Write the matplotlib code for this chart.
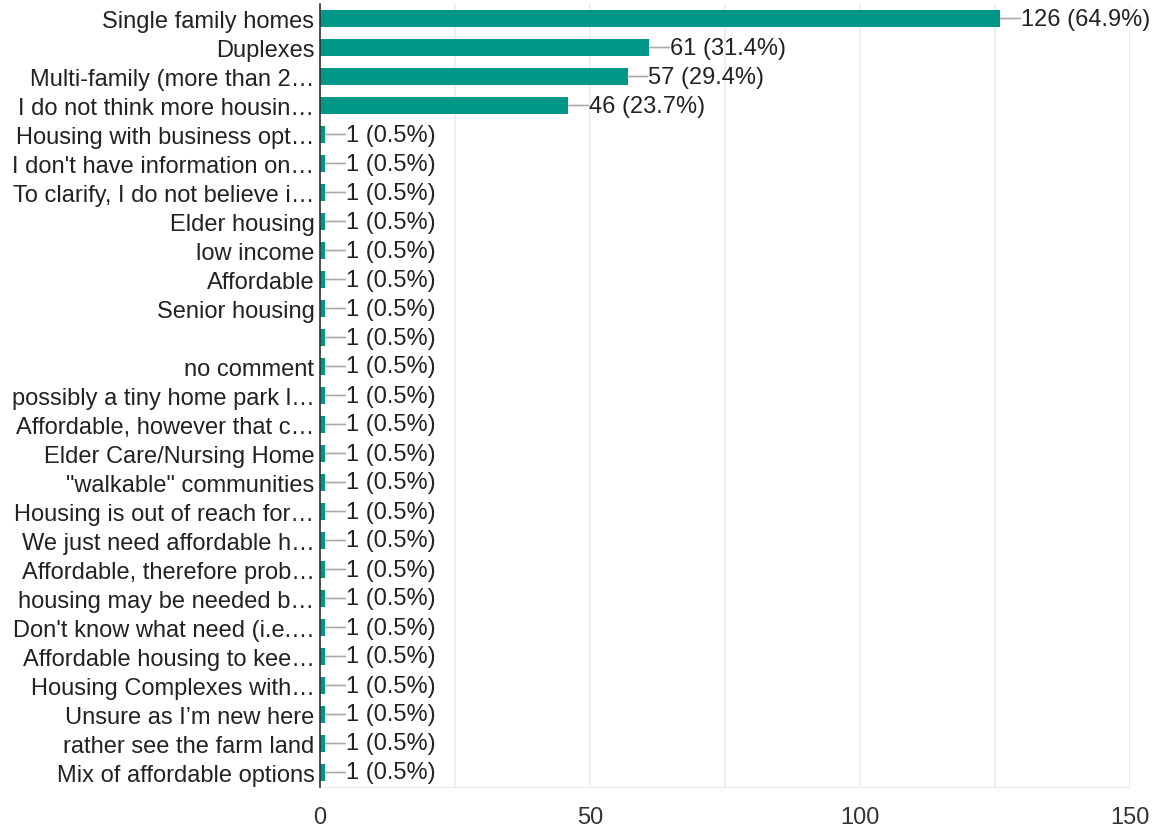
import matplotlib
matplotlib.use("Agg")
import matplotlib.pyplot as plt

categories = [
    "Single family homes", "Duplexes", "Multi-family (more than 2\u2026",
    "I do not think more housin\u2026", "Housing with business opt\u2026",
    "I don't have information on\u2026", "To clarify, I do not believe i\u2026",
    "Elder housing", "low income", "Affordable", "Senior housing", "",
    "no comment", "possibly a tiny home park l\u2026", "Affordable, however that c\u2026",
    "Elder Care/Nursing Home", "\"walkable\" communities", "Housing is out of reach for\u2026",
    "We just need affordable h\u2026", "Affordable, therefore prob\u2026",
    "housing may be needed b\u2026", "Don't know what need (i.e.\u2026",
    "Affordable housing to kee\u2026", "Housing Complexes with\u2026",
    "Unsure as I\u2019m new here", "rather see the farm land", "Mix of affordable options",
]
values = [126, 61, 57, 46] + [1] * 23
percents = [64.9, 31.4, 29.4, 23.7] + [0.5] * 23
xticks = [0, 50, 100, 150]

plt.rcParams['font.family'] = ['Liberation Sans', 'DejaVu Sans']
fig = plt.figure(figsize=(11.55, 8.29), dpi=100)
ax = fig.add_axes([320/1155, 1-788/829, 810/1155, 783/829])

ypos = list(range(len(categories)))
ax.barh(ypos, values, height=0.6, color="#009688", zorder=3)
ax.set_ylim(len(categories) - 0.5, -0.5)
ax.set_xlim(0, 150)

fs = 17
for y, v, p in zip(ypos, values, percents):
    ax.annotate("", xy=(v, y), xytext=(v + 3.7, y),
                arrowprops=dict(arrowstyle="-", color="#aaaaaa", lw=1.2,
                                shrinkA=0, shrinkB=0), zorder=4)
    ax.text(v + 3.8, y, f"{v} ({p}%)", va="center", ha="left",
            fontsize=fs, color="#222222", zorder=5)

ax.set_yticks(ypos)
ax.set_yticklabels(categories, fontsize=fs, color="#222222")
ax.tick_params(axis='y', length=0, pad=4)
ax.set_xticks([0, 25, 50, 75, 100, 125, 150])
ax.set_xticklabels(["0", "", "50", "", "100", "", "150"], fontsize=fs, color="#333333")
ax.tick_params(axis='x', length=0, pad=14)
ax.grid(axis='x', color="#ebebeb", lw=1.2, zorder=0)
for s in ["top", "right"]:
    ax.spines[s].set_visible(False)
ax.spines["bottom"].set_color("#ebebeb")
ax.spines["left"].set_color("#333333")
ax.spines["left"].set_linewidth(1.2)
ax.spines["left"].set_zorder(6)

fig.savefig("out.png", dpi=100)
